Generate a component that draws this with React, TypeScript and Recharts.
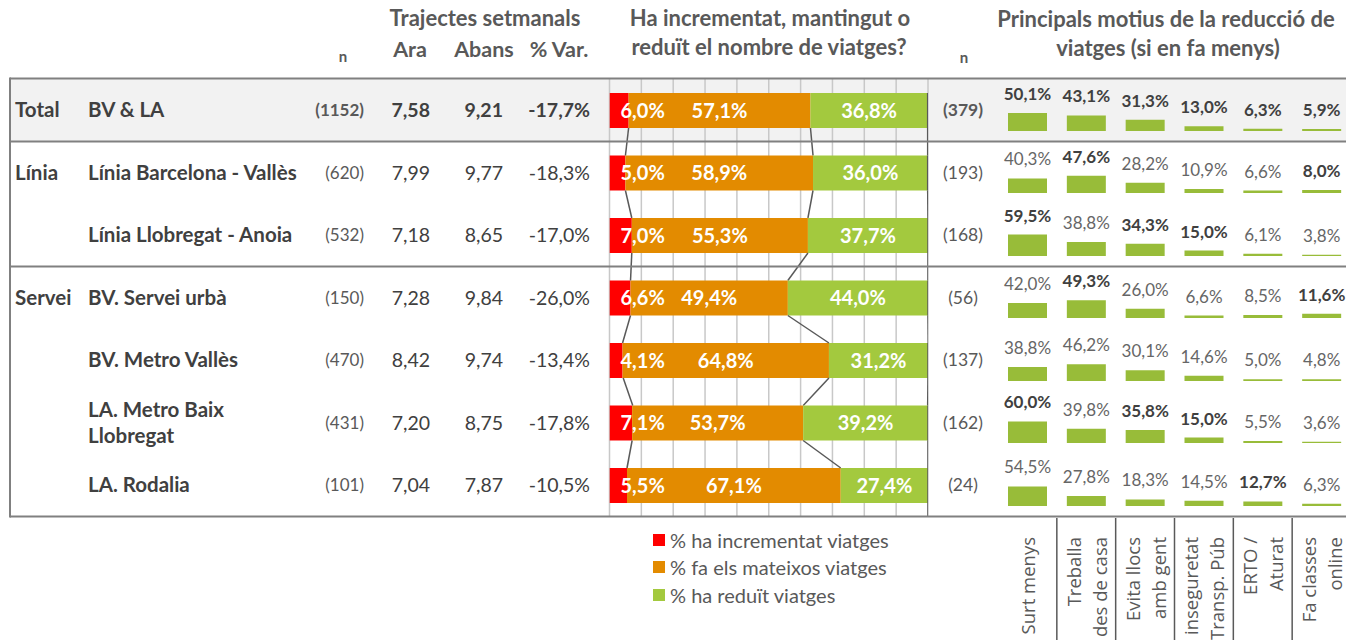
import React from "react";
import {
  ComposedChart,
  BarChart,
  Bar,
  XAxis,
  YAxis,
  CartesianGrid,
  LabelList,
  Legend,
} from "recharts";

// ---------- DATA ----------
const groups = ["Total", "Línia", "", "Servei", "", "", ""];
const rowNames = [
  "BV & LA",
  "Línia Barcelona - Vallès",
  "Línia Llobregat - Anoia",
  "BV. Servei urbà",
  "BV. Metro Vallès",
  "LA. Metro Baix\nLlobregat",
  "LA. Rodalia",
];
const nTrips = [1152, 620, 532, 150, 470, 431, 101];
const araTrips = [7.58, 7.99, 7.18, 7.28, 8.42, 7.2, 7.04];
const abansTrips = [9.21, 9.77, 8.65, 9.84, 9.74, 8.75, 7.87];
const varTrips = [-17.7, -18.3, -17.0, -26.0, -13.4, -17.8, -10.5];

const incPct = [6.0, 5.0, 7.0, 6.6, 4.1, 7.1, 5.5];
const samePct = [57.1, 58.9, 55.3, 49.4, 64.8, 53.7, 67.1];
const redPct = [36.8, 36.0, 37.7, 44.0, 31.2, 39.2, 27.4];
const seriesNames = ["% ha incrementat viatges", "% fa els mateixos viatges", "% ha reduït viatges"];

const nMotius = [379, 193, 168, 56, 137, 162, 24];
const motiuLabels = [
  ["Surt menys"],
  ["Treballa", "des de casa"],
  ["Evita llocs", "amb gent"],
  ["inseguretat", "Transp. Púb"],
  ["ERTO /", "Aturat"],
  ["Fa classes", "online"],
];
const motiusTotal = [50.1, 43.1, 31.3, 13.0, 6.3, 5.9];
const motiusBarcelona = [40.3, 47.6, 28.2, 10.9, 6.6, 8.0];
const motiusLlobregat = [59.5, 38.8, 34.3, 15.0, 6.1, 3.8];
const motiusServeiUrba = [42.0, 49.3, 26.0, 6.6, 8.5, 11.6];
const motiusMetroValles = [38.8, 46.2, 30.1, 14.6, 5.0, 4.8];
const motiusMetroBaix = [60.0, 39.8, 35.8, 15.0, 5.5, 3.6];
const motiusRodalia = [54.5, 27.8, 18.3, 14.5, 12.7, 6.3];
const motius = [
  motiusTotal,
  motiusBarcelona,
  motiusLlobregat,
  motiusServeiUrba,
  motiusMetroValles,
  motiusMetroBaix,
  motiusRodalia,
];
const motiusBold = [
  [1, 1, 1, 1, 1, 1],
  [0, 1, 0, 0, 0, 1],
  [1, 0, 1, 1, 0, 0],
  [0, 1, 0, 0, 0, 1],
  [0, 0, 0, 0, 0, 0],
  [1, 0, 1, 1, 0, 0],
  [0, 0, 0, 0, 1, 0],
];

// ---------- LAYOUT / STYLE ----------
const W = 1346;
const H = 640;
const ROW_TOP = 79;
const ROW_H = 62.5;
const NROWS = 7;
const PLOT_L = 609.5;
const PLOT_R = 928;
const BAR = 35;
const SB_LEFT = 998;
const SB_W = 353;
const SB_H = 36;
const SB_MT = 34;
const SB_BASE_OFF = 20.5;

const RED = "#ff0000";
const ORANGE = "#e38b00";
const GREEN = "#a3c93e";
const SMALL_GREEN = "#98bc39";
const TXT = "#404040";
const HEAD = "#595959";
const FONT = "Lato, 'Noto Sans', sans-serif";
const LFONT = "'Open Sans', 'Noto Sans', sans-serif";

const fmt = (v: number, d: number) => v.toFixed(d).replace(".", ",");

const mainData = rowNames.map((_, i) => ({
  key: String(i),
  inc: incPct[i],
  same: samePct[i],
  red: redPct[i],
}));

const cum1 = incPct.slice();
const cum2 = incPct.map((v, i) => v + samePct[i]);
const cum3 = incPct.map((v, i) => v + samePct[i] + redPct[i]);

// ---------- COMPONENTS ----------
function RowTick(props: any) {
  const { y, payload } = props;
  const i = Number(payload.value);
  const total = i === 0;
  const numW = total ? 700 : 400;
  const lines = rowNames[i].split("\n");
  return (
    <g fontFamily={FONT}>
      {groups[i] ? (
        <text x={15} y={y} dy="0.35em" fontSize={20.5} fontWeight={700} fill={TXT}>
          {groups[i]}
        </text>
      ) : null}
      {lines.map((l, k) => (
        <text
          key={k}
          x={88}
          y={y + (k - (lines.length - 1) / 2) * 26}
          dy="0.35em"
          fontSize={20.5}
          fontWeight={700}
          fill={TXT}
        >
          {l}
        </text>
      ))}
      <text x={364} y={y} dy="0.35em" textAnchor="end" fontSize={17} fontWeight={numW} fill={HEAD}>
        ({nTrips[i]})
      </text>
      <text x={430} y={y} dy="0.35em" textAnchor="end" fontSize={19.5} fontWeight={numW} fill={TXT}>
        {fmt(araTrips[i], 2)}
      </text>
      <text x={503} y={y} dy="0.35em" textAnchor="end" fontSize={19.5} fontWeight={numW} fill={TXT}>
        {fmt(abansTrips[i], 2)}
      </text>
      <text x={590} y={y} dy="0.35em" textAnchor="end" fontSize={19.5} fontWeight={numW} fill={TXT}>
        {fmt(varTrips[i], 1)}%
      </text>
      <text x={963} y={y} dy="0.35em" textAnchor="middle" fontSize={17.5} fontWeight={numW} fill={HEAD}>
        ({nMotius[i]})
      </text>
    </g>
  );
}

function makeBarLabel(mode: "start" | "middle") {
  return (props: any) => {
    const vb = props.viewBox || props;
    const { x, y, width, height } = vb;
    const v = Number(props.value);
    const tx = mode === "start" ? x + 11 : x + width / 2;
    return (
      <text
        x={tx}
        y={y + height / 2}
        dy="0.36em"
        textAnchor={mode}
        fontFamily={FONT}
        fontSize={20}
        fontWeight={700}
        fill="#ffffff"
      >
        {fmt(v, 1)}%
      </text>
    );
  };
}

// Green segment shape: draws the bar plus the series lines joining each bar to the next one
function GreenShape(props: any) {
  const { x, y, width, height, index, fill } = props;
  const i = index;
  const pp = width / redPct[i];
  const x0 = x - cum2[i] * pp;
  const gapBottom = y + height;
  const segs: number[][] = [];
  if (i < NROWS - 1) {
    const nextTop = y + ROW_H;
    [cum1, cum2, cum3].forEach((c) => segs.push([x0 + c[i] * pp, gapBottom, x0 + c[i + 1] * pp, nextTop]));
  } else {
    segs.push([x0 + cum3[i] * pp, gapBottom, x0 + cum3[i] * pp, gapBottom + (ROW_H - BAR) / 2]);
  }
  return (
    <g>
      <rect x={x} y={y} width={width} height={height} fill={fill} />
      <line x1={x + width} x2={x + width} y1={y} y2={y + height} stroke="#595959" strokeWidth={1.5} />
      {segs.map((s, k) => (
        <line key={k} x1={s[0]} y1={s[1]} x2={s[2]} y2={s[3]} stroke="#595959" strokeWidth={1.5} />
      ))}
    </g>
  );
}

function LegendContent(props: any) {
  const payload = (props.payload || []).filter((e: any) => seriesNames.indexOf(e.value) >= 0);
  payload.sort((a: any, b: any) => seriesNames.indexOf(a.value) - seriesNames.indexOf(b.value));
  return (
    <div style={{ fontFamily: FONT, fontSize: 20, color: HEAD }}>
      {payload.map((e: any, k: number) => (
        <div key={k} style={{ height: 27.5, display: "flex", alignItems: "center", whiteSpace: "nowrap" }}>
          <span
            style={{ width: 12, height: 12, background: e.color, marginRight: 5, display: "inline-block", flex: "none" }}
          />
          {e.value}
        </div>
      ))}
    </div>
  );
}

function ReasonTick(props: any) {
  const { x, y, index } = props;
  const lines = motiuLabels[index];
  const top = y + 31;
  const band = SB_W / motiuLabels.length;
  return (
    <g>
      {index > 0 ? (
        <line x1={x - band / 2} x2={x - band / 2} y1={y + 12} y2={y + 140} stroke="#595959" strokeWidth={1.5} />
      ) : null}
      {lines.map((l, k) => {
        const cx = lines.length === 1 ? x : x + (k === 0 ? -13 : 13);
        return (
          <text
            key={k}
            transform={`translate(${cx},${top}) rotate(-90)`}
            textAnchor="end"
            dominantBaseline="central"
            fontFamily={LFONT}
            fontSize={18.5}
            fill={HEAD}
          >
            {l}
          </text>
        );
      })}
    </g>
  );
}

function MotiuChart({ row }: { row: number }) {
  const data = motiuLabels.map((m, j) => ({ m: m.join(" "), v: motius[row][j] }));
  const base = ROW_TOP + ROW_H * (row + 0.5) + SB_BASE_OFF;
  const showAxis = row === NROWS - 1;
  const axisH = showAxis ? H - base : 0;
  const top = base - SB_H - SB_MT;
  const label = (props: any) => {
    const vb = props.viewBox || props;
    const { x, y, width } = vb;
    const idx = props.index;
    const bold = motiusBold[row][idx] === 1;
    return (
      <text
        x={x + width / 2}
        y={y - 13}
        textAnchor="middle"
        fontFamily={FONT}
        fontSize={17}
        fontWeight={bold ? 700 : 400}
        fill={bold ? TXT : "#666666"}
      >
        {fmt(Number(props.value), 1)}%
      </text>
    );
  };
  return (
    <div style={{ position: "absolute", left: SB_LEFT, top }}>
      <BarChart
        width={SB_W}
        height={SB_MT + SB_H + axisH}
        data={data}
        margin={{ top: SB_MT, right: 0, bottom: 0, left: 0 }}
        barCategoryGap={0}
        style={{ overflow: "visible" }}
      >
        <XAxis
          dataKey="m"
          type="category"
          hide={!showAxis}
          height={axisH || 1}
          axisLine={false}
          tickLine={false}
          tickSize={0}
          tickMargin={0}
          interval={0}
          tick={(p: any) => <ReasonTick {...p} />}
        />
        <YAxis hide type="number" domain={[0, 100]} allowDataOverflow />
        <Bar dataKey="v" fill={SMALL_GREEN} barSize={39} isAnimationActive={false}>
          <LabelList dataKey="v" content={label} />
        </Bar>
      </BarChart>
    </div>
  );
}

function Background() {
  return (
    <svg width={W} height={H} style={{ position: "absolute", left: 0, top: 0 }}>
      <rect x={11} y={ROW_TOP} width={W - 11} height={ROW_H} fill="#f2f2f2" />
      <g fontFamily={FONT} fill={HEAD} fontWeight={700}>
        <text x={485} y={18} dy="0.35em" textAnchor="middle" fontSize={22}>Trajectes setmanals</text>
        <text x={410} y={49} dy="0.35em" textAnchor="middle" fontSize={21.5}>Ara</text>
        <text x={484} y={49} dy="0.35em" textAnchor="middle" fontSize={21.5}>Abans</text>
        <text x={559} y={49} dy="0.35em" textAnchor="middle" fontSize={21.5}>% Var.</text>
        <text x={343} y={57} dy="0.35em" textAnchor="middle" fontSize={15}>n</text>
        <text x={770} y={18} dy="0.35em" textAnchor="middle" fontSize={22}>Ha incrementat, mantingut o</text>
        <text x={769} y={47} dy="0.35em" textAnchor="middle" fontSize={22}>reduït el nombre de viatges?</text>
        <text x={964} y={58} dy="0.35em" textAnchor="middle" fontSize={15}>n</text>
        <text x={1166} y={19} dy="0.35em" textAnchor="middle" fontSize={22}>Principals motius de la reducció de</text>
        <text x={1168} y={48} dy="0.35em" textAnchor="middle" fontSize={22}>viatges (si en fa menys)</text>
      </g>
    </svg>
  );
}

function Borders() {
  const bottom = ROW_TOP + ROW_H * NROWS;
  const lineYs = [ROW_TOP - 0.5, ROW_TOP + ROW_H, ROW_TOP + ROW_H * 3, bottom];
  return (
    <svg width={W} height={H} style={{ position: "absolute", left: 0, top: 0, pointerEvents: "none" }}>
      {lineYs.map((y, k) => (
        <line key={k} x1={10} x2={W} y1={y} y2={y} stroke="#808080" strokeWidth={2} />
      ))}
      <line x1={10} x2={10} y1={ROW_TOP - 1.5} y2={bottom + 1} stroke="#808080" strokeWidth={2} />
    </svg>
  );
}

export default function App() {
  return (
    <div
      style={{
        position: "absolute",
        left: 0,
        top: 0,
        width: W,
        height: H,
        overflow: "hidden",
        background: "#ffffff",
      }}
    >
      <Background />
      <div style={{ position: "absolute", left: 0, top: 0 }}>
        <ComposedChart
          width={W}
          height={H}
          data={mainData}
          layout="vertical"
          margin={{ top: ROW_TOP, right: W - PLOT_R, bottom: H - ROW_TOP - ROW_H * NROWS, left: PLOT_L - 1 }}
        >
          <CartesianGrid horizontal={false} stroke="#c8c8c8" strokeWidth={1.5} />
          <XAxis
            type="number"
            domain={[0, 100]}
            ticks={[0, 10, 20, 30, 40, 50, 60, 70, 80, 90, 100]}
            allowDataOverflow
            hide
          />
          <YAxis
            type="category"
            dataKey="key"
            width={1}
            axisLine={false}
            tickLine={false}
            interval={0}
            tick={(p: any) => <RowTick {...p} />}
          />
          <Bar dataKey="inc" stackId="s" fill={RED} barSize={BAR} name={seriesNames[0]} isAnimationActive={false}>
            <LabelList dataKey="inc" content={makeBarLabel("start")} />
          </Bar>
          <Bar dataKey="same" stackId="s" fill={ORANGE} barSize={BAR} name={seriesNames[1]} isAnimationActive={false}>
            <LabelList dataKey="same" content={makeBarLabel("middle")} />
          </Bar>
          <Bar
            dataKey="red"
            stackId="s"
            fill={GREEN}
            barSize={BAR}
            name={seriesNames[2]}
            isAnimationActive={false}
            shape={(p: any) => <GreenShape {...p} />}
          >
            <LabelList dataKey="red" content={makeBarLabel("middle")} />
          </Bar>
          <Legend
            layout="horizontal"
            verticalAlign="middle"
            align="center"
            wrapperStyle={{ position: "absolute", left: 653, top: 526, width: 300, height: 90 }}
            content={(p: any) => <LegendContent {...p} />}
          />
        </ComposedChart>
      </div>
      {motius.map((_, r) => (
        <MotiuChart key={r} row={r} />
      ))}
      <Borders />
    </div>
  );
}
